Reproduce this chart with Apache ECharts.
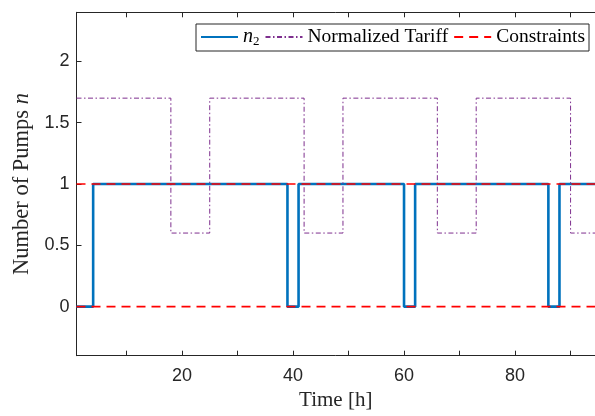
<!DOCTYPE html>
<html>
<head>
<meta charset="utf-8">
<script src="https://cdn.jsdelivr.net/npm/echarts@6/dist/echarts.min.js"></script>
<style>
html,body{margin:0;padding:0;background:#fff;}
#chart{width:595px;height:416px;}
</style>
</head>
<body>
<div id="chart"></div>
<script>
// ---- data ----
const xMin = 1;
const xMax = 94.4;
const yMin = -0.4;
const yMax = 2.4;
const pumpTimes = [1, 4, 39, 41, 60, 62, 86, 88];
const pumpValues = [0, 1, 0, 1, 0, 1, 0, 1];
const tariffTimes = [1, 18, 25, 42, 49, 66, 73, 90];
const tariffValues = [1.7, 0.6, 1.7, 0.6, 1.7, 0.6, 1.7, 0.6];
const constraintLevels = [0, 1];
const xTickValues = [10, 20, 30, 40, 50, 60, 70, 80, 90];
const xLabelValues = [20, 40, 60, 80];
const yTickValues = [0, 0.5, 1, 1.5, 2];

function stairs(times, values) {
  const d = times.map((t, i) => [t, values[i]]);
  d.push([xMax, values[values.length - 1]]);
  return d;
}

const axisColor = '#262626';
const tickFont = { fontFamily: 'Liberation Sans', fontSize: 18, color: axisColor };
const serif = 'Liberation Serif';

const series = [
  {
    name: 'n2', type: 'line', step: 'end', symbol: 'none',
    data: stairs(pumpTimes, pumpValues),
    lineStyle: { color: '#0072BD', width: 2.6 },
    itemStyle: { color: '#0072BD' },
    z: 2
  },
  {
    name: 'Normalized Tariff', type: 'line', step: 'end', symbol: 'none',
    data: stairs(tariffTimes, tariffValues),
    lineStyle: { color: '#7E2F8E', width: 1, type: [5, 2.5, 1.5, 2.5] },
    itemStyle: { color: '#7E2F8E' },
    z: 3
  }
];
constraintLevels.forEach(level => {
  series.push({
    name: 'Constraints', type: 'line', symbol: 'none',
    data: [[xMin, level], [xMax, level]],
    lineStyle: { color: '#FF0000', width: 1.6, type: [9, 6] },
    itemStyle: { color: '#FF0000' },
    z: 4
  });
});

const chart = echarts.init(document.getElementById('chart'), null, { renderer: 'canvas' });
chart.setOption({
  animation: false,
  backgroundColor: '#fff',
  grid: { left: 76.5, right: 0, top: 12.3, bottom: 60.3, containLabel: false },
  legend: {
    left: 196, top: 24, width: 420,
    orient: 'horizontal',
    data: ['n2', 'Normalized Tariff', 'Constraints'],
    itemWidth: 37, itemHeight: 20, itemGap: 5,
    padding: [3, 4, 3, 4],
    backgroundColor: '#fff',
    borderColor: '#262626', borderWidth: 1, borderRadius: 0,
    itemStyle: { opacity: 0 },
    formatter: name => name === 'n2' ? '{i|n}{s|2}' : name,
    textStyle: {
      fontFamily: serif, fontSize: 19.5, color: '#000',
      rich: {
        i: { fontFamily: serif, fontSize: 20, fontStyle: 'italic', color: '#000' },
        s: { fontFamily: serif, fontSize: 13, color: '#000', padding: [9, 0, 0, 0] }
      }
    }
  },
  xAxis: [
    {
      type: 'value', min: xMin, max: xMax, position: 'bottom',
      name: 'Time [h]', nameLocation: 'middle', nameGap: 33,
      nameTextStyle: { fontFamily: serif, fontSize: 21, color: axisColor },
      axisLine: { show: true, onZero: false, lineStyle: { color: axisColor, width: 1 } },
      axisTick: { show: true, inside: true, length: 5, customValues: xTickValues, lineStyle: { color: axisColor } },
      axisLabel: Object.assign({ margin: 11, customValues: xLabelValues }, tickFont),
      splitLine: { show: false }
    },
    {
      type: 'value', min: xMin, max: xMax, position: 'top',
      axisLine: { show: true, onZero: false, lineStyle: { color: axisColor, width: 1 } },
      axisTick: { show: true, inside: true, length: 5, customValues: xTickValues, lineStyle: { color: axisColor } },
      axisLabel: { show: false },
      splitLine: { show: false }
    }
  ],
  yAxis: {
    type: 'value', min: yMin, max: yMax,
    name: 'Number of Pumps {i|n}', nameLocation: 'middle', nameGap: 43, nameRotate: 90,
    nameTextStyle: {
      fontFamily: serif, fontSize: 22.5, color: axisColor,
      rich: { i: { fontFamily: serif, fontSize: 22.5, fontStyle: 'italic', color: axisColor } }
    },
    axisLine: { show: true, onZero: false, lineStyle: { color: axisColor, width: 1 } },
    axisTick: { show: true, inside: true, length: 5, customValues: yTickValues, lineStyle: { color: axisColor } },
    axisLabel: Object.assign({ margin: 7, customValues: yTickValues, formatter: v => String(v) }, tickFont),
    splitLine: { show: false }
  },
  series: series
});
</script>
</body>
</html>
